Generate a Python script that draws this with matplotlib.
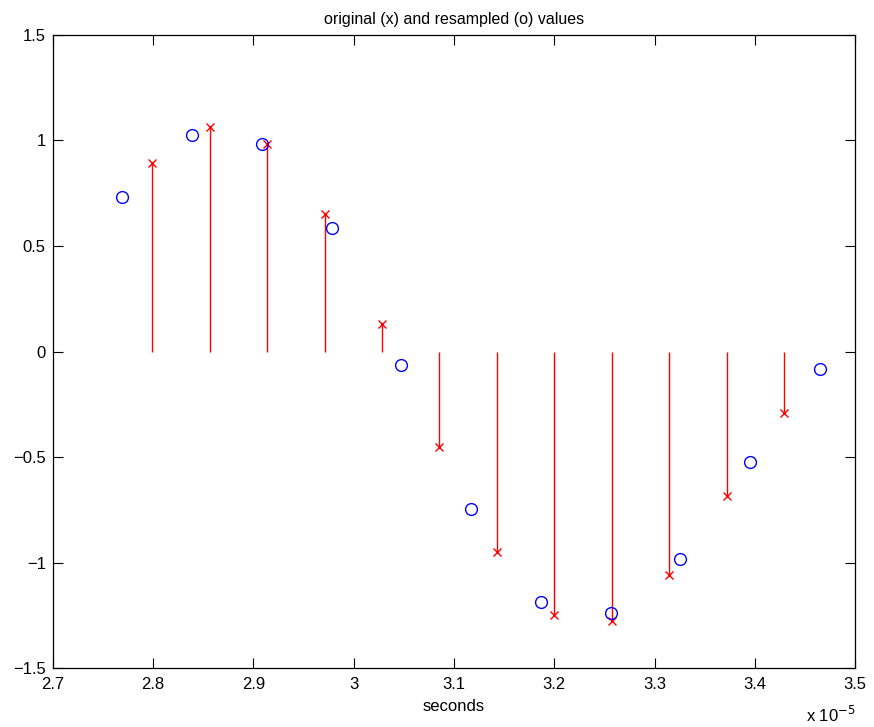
import numpy as np
import matplotlib
matplotlib.use("Agg")
import matplotlib.pyplot as plt
from matplotlib.ticker import FuncFormatter

plt.rcParams['font.family'] = ['Liberation Sans', 'DejaVu Sans']

# original samples (x) - time in seconds, amplitude
t_orig = np.array([2.7989, 2.8567, 2.9136, 2.9710, 3.0278, 3.0853,
                   3.1429, 3.2000, 3.2571, 3.3147, 3.3718, 3.4293]) * 1e-5
y_orig = [0.894, 1.062, 0.982, 0.650, 0.131, -0.450,
          -0.951, -1.246, -1.274, -1.057, -0.686, -0.293]

# resampled values (o)
t_res = np.array([2.7690, 2.8388, 2.9082, 2.9780, 3.0475, 3.1172,
                  3.1867, 3.2565, 3.3256, 3.3951, 3.4649]) * 1e-5
y_res = [0.731, 1.027, 0.982, 0.585, -0.066, -0.744,
         -1.188, -1.240, -0.982, -0.523, -0.085]

xticks = np.arange(2.7, 3.51, 0.1) * 1e-5
yticks = [-1.5, -1, -0.5, 0, 0.5, 1, 1.5]

fig = plt.figure(figsize=(8.74, 7.27), dpi=100)
ax = fig.add_axes([0.0603, 0.0807, 0.9183, 0.8715])

ml, sl, bl = ax.stem(t_orig, y_orig, linefmt='r-', markerfmt='rx', basefmt=' ')
plt.setp(sl, linewidth=1.0)
plt.setp(ml, markersize=6, markeredgewidth=1.0)
ax.plot(t_res, y_res, 'o', color='blue', markerfacecolor='none',
        markersize=8.5, markeredgewidth=1.0)

ax.set_xlim(2.7e-5, 3.5e-5)
ax.set_ylim(-1.5, 1.5)
ax.set_xticks(xticks)
ax.set_yticks(yticks)
ax.xaxis.set_major_formatter(FuncFormatter(lambda v, p: '%g' % round(v / 1e-5, 4)))
ax.yaxis.set_major_formatter(FuncFormatter(lambda v, p: ('%g' % v).replace('-', '\u2212')))
ax.tick_params(direction='in', top=True, right=True, length=7, width=0.8,
               labelsize=12, pad=5)
ax.tick_params(axis='x', pad=6)
for s in ax.spines.values():
    s.set_linewidth(0.9)

ax.set_title('original (x) and resampled (o) values', fontsize=11.5, pad=8)
ax.set_xlabel('seconds', fontsize=12, labelpad=5)
ax.text(1.0, -0.058, r'x 10$^{-5}$', transform=ax.transAxes, ha='right', va='top',
        fontsize=12)

fig.savefig('out.png', dpi=100)
